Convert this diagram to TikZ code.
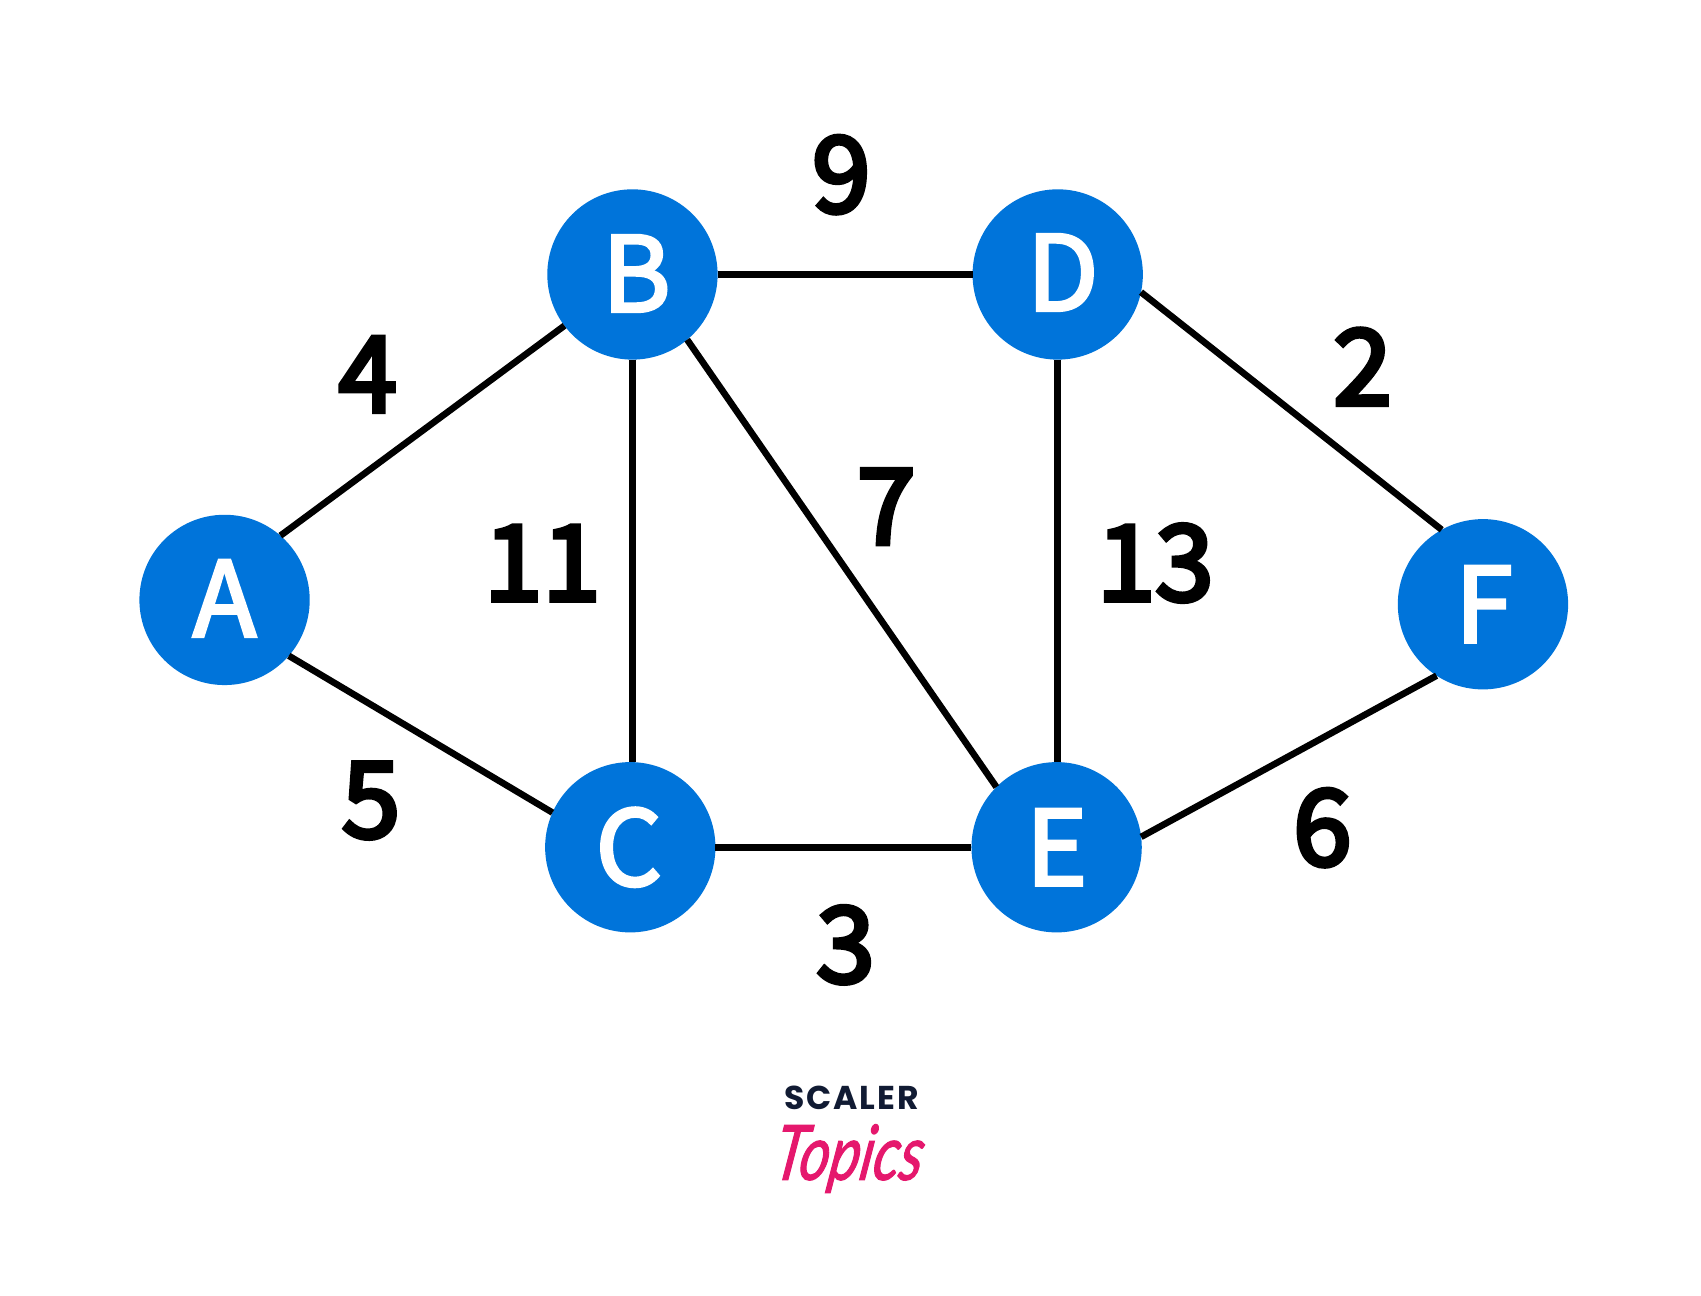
\documentclass[tikz,border=0pt]{standalone}
\usepackage{fontspec}
\newfontfamily\cjkf{Noto Sans CJK SC}
\newfontfamily\cjkletter[FakeBold=3]{Noto Sans CJK SC}
\newfontfamily\cjknum[FakeBold=4.4]{Noto Sans CJK SC}
\newfontfamily\logof{Poppins}
\newfontfamily\topf[FakeBold=1.6]{Lato}
\definecolor{nodeblue}{HTML}{0074DA}
\definecolor{navy}{HTML}{111B33}
\definecolor{pinkish}{HTML}{E5186D}
\tikzset{
  x=1.0848pt,y=-1.0848pt,
  vertex/.style={circle,fill=nodeblue,text=white,minimum size=170.3pt,inner sep=0pt,outer sep=0pt,font=\cjkletter\fontsize{104}{104}\selectfont},
  edge/.style={draw=black,line width=6.6pt},
  weight/.style={text=black,inner sep=0pt,font=\cjknum\fontsize{105}{105}\selectfont}
}
\begin{document}
\begin{tikzpicture}
\useasboundingbox (0,0) rectangle (1568,1193.8);
\fill[white] (0,0) rectangle (1568,1193.8);
\node[vertex] (A) at (207,553) {\raisebox{3pt}{A}};
\node[vertex] (B) at (583,253) {\kern8pt\raisebox{2pt}{B}};
\node[vertex] (C) at (581,781) {\raisebox{0pt}{C}\kern3pt};
\node[vertex] (D) at (975,253) {\kern10pt\raisebox{4pt}{D}};
\node[vertex] (E) at (974,781) {E};
\node[vertex] (F) at (1367,557) {\kern2pt F};
\draw[edge] (A.49) -- (B.217);
\draw[edge] (A.-41) -- (C.156);
\draw[edge] (B.east) -- (D.west);
\draw[edge] (B.south) -- (B.south |- C.north);
\draw[edge] (B.-50) -- (E.135);
\draw[edge] (C.east) -- (E.west);
\draw[edge] (D.south) -- (D.south |- E.north);
\draw[edge] (D.-12) -- (F.119);
\draw[edge] (E.7) -- (F.237);
\node[weight] (w9) at (775.5,161) {9};
\node[weight] (w4) at (339,345) {4};
\node[weight] (w2) at (1256,338) {2};
\node[weight] (w11) at (500,519) {11};
\node[weight] (w7) at (817,467) {7};
\node[weight] (w13) at (1065,519) {13};
\node[weight] (w5) at (342,738) {5};
\node[weight] (w6) at (1219,763) {6};
\node[weight] (w3) at (779.5,871) {3};
\node[text=navy,inner sep=0pt,font=\logof\bfseries\fontsize{33}{33}\selectfont] (scaler) at (785,1012) {S\kern2pt C\kern2pt A\kern2pt L\kern2pt E\kern2pt R};
\node[text=pinkish,inner sep=0pt,transform shape,xscale=.76,xslant=.22,font=\topf\itshape\fontsize{76}{76}\selectfont] (topics) at (783,1068) {Topics};
\end{tikzpicture}
\end{document}
